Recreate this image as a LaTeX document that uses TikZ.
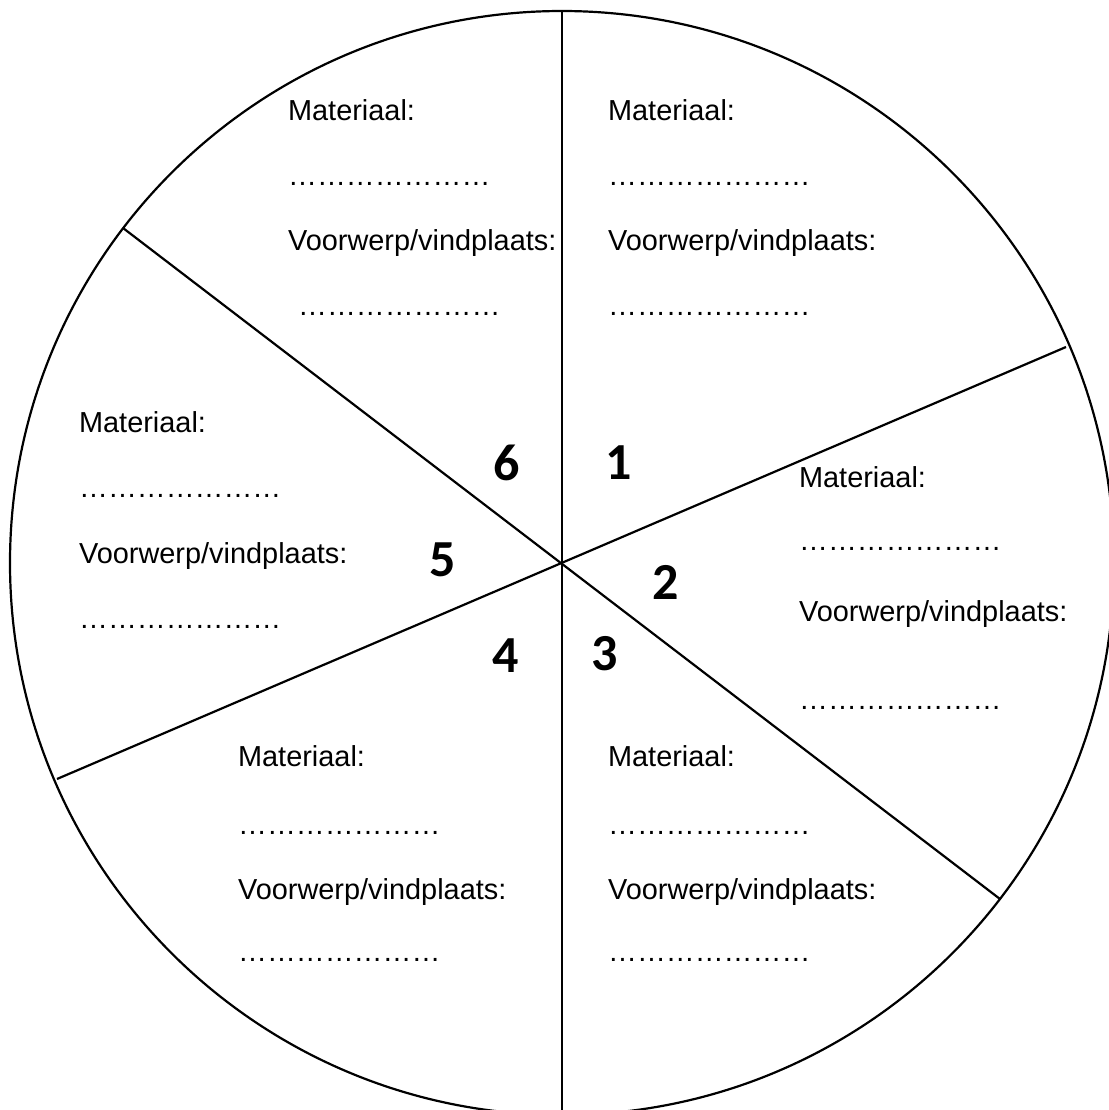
\documentclass[tikz,border=0pt]{standalone}
\usepackage{fontspec}
\setmainfont{Liberation Sans}
\newfontfamily\numfont{Carlito}
\usetikzlibrary{positioning}

\begin{document}
\begin{tikzpicture}[x=0.5pt,y=-0.5pt,line width=1.1pt]
\tikzstyle{lbl}=[anchor=base west,inner sep=0pt,font=\fontsize{14.45}{17}\selectfont]
\tikzstyle{nr}=[inner sep=0pt,font=\numfont\bfseries\fontsize{26}{30}\selectfont]
\useasboundingbox (0,0) rectangle (1109,1110);
\clip (0,0) rectangle (1109,1110);
\coordinate (C) at (562,563);
\coordinate (top) at (562,11);
\coordinate (bot) at (562,1115);
\coordinate (ur)  at (1066,347);
\coordinate (ll)  at (57,779);
\coordinate (ul)  at (123,228);
\coordinate (lr)  at (1000,899);
\draw (C) circle [radius=276pt];
\draw (top) -- (bot);
\draw (ur) -- (ll);
\draw (ul) -- (lr);
% sector numbers
\node[nr]	(n1)	at (619,463)	{1};
\node[nr]	(n2)	at (666,582)	{2};
\node[nr]	(n3)	at (605,654)	{3};
\node[nr]	(n4)	at (506,656)	{4};
\node[nr]	(n5)	at (443,560)	{5};
\node[nr]	(n6)	at (507,463)	{6};
% sector 6
\node[lbl]	(mat6)	at (287,120)	{Materiaal:};
\node[lbl]	(dta6)	at (287,185)	{…………………};
\node[lbl]	(vw6)	at (287,250)	{Voorwerp/vindplaats:};
\node[lbl]	(dtb6)	at (297,315)	{…………………};
% sector 1
\node[lbl]	(mat1)	at (607,120)	{Materiaal:};
\node[lbl]	(dta1)	at (607,185)	{…………………};
\node[lbl]	(vw1)	at (607,250)	{Voorwerp/vindplaats:};
\node[lbl]	(dtb1)	at (607,315)	{…………………};
% sector 5
\node[lbl]	(mat5)	at (78,432)	{Materiaal:};
\node[lbl]	(dta5)	at (78,497)	{…………………};
\node[lbl]	(vw5)	at (78,563)	{Voorwerp/vindplaats:};
\node[lbl]	(dtb5)	at (78,628)	{…………………};
% sector 2
\node[lbl]	(mat2)	at (798,487)	{Materiaal:};
\node[lbl]	(dta2)	at (798,550)	{…………………};
\node[lbl]	(vw2)	at (798,621)	{Voorwerp/vindplaats:};
\node[lbl]	(dtb2)	at (798,709)	{…………………};
% sector 4
\node[lbl]	(mat4)	at (237,766)	{Materiaal:};
\node[lbl]	(dta4)	at (237,834)	{…………………};
\node[lbl]	(vw4)	at (237,899)	{Voorwerp/vindplaats:};
\node[lbl]	(dtb4)	at (237,961)	{…………………};
% sector 3
\node[lbl]	(mat3)	at (607,766)	{Materiaal:};
\node[lbl]	(dta3)	at (607,834)	{…………………};
\node[lbl]	(vw3)	at (607,899)	{Voorwerp/vindplaats:};
\node[lbl]	(dtb3)	at (607,961)	{…………………};
\end{tikzpicture}
\end{document}
